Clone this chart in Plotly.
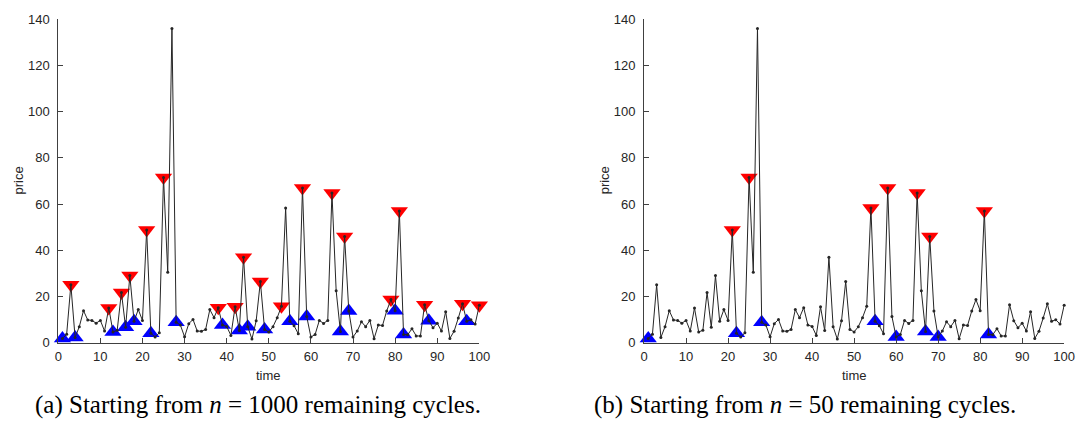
import plotly.graph_objects as go

time = list(range(1, 101))
price = [1.8, 3.6, 25.0, 2.2, 6.9, 13.8, 9.8, 9.6, 8.4, 9.6,
         5.0, 15.0, 4.6, 5.3, 21.7, 6.6, 29.0, 9.2, 14.3, 9.6,
         48.8, 4.0, 2.4, 4.2, 71.5, 30.5, 136.0, 8.8, 7.6, 2.5,
         8.2, 10.0, 5.0, 4.9, 5.7, 14.3, 10.8, 15.1, 7.6, 7.0,
         3.1, 15.5, 5.2, 37.0, 6.9, 1.5, 9.4, 26.4, 5.7, 4.6,
         6.9, 10.8, 15.7, 58.3, 9.2, 7.3, 3.8, 66.9, 11.3, 2.4,
         3.5, 9.6, 8.3, 9.6, 64.8, 22.4, 4.8, 45.9, 13.7, 2.4,
         5.0, 9.0, 6.9, 9.6, 1.7, 7.6, 7.4, 13.7, 18.6, 13.8,
         57.0, 3.5, 3.4, 6.0, 2.9, 2.8, 16.4, 9.5, 6.4, 8.4,
         5.0, 13.4, 1.8, 4.9, 10.6, 16.8, 9.2, 9.9, 8.0, 16.2]

# panel (a): n = 1000
sell_a = [3, 12, 15, 17, 21, 25, 38, 42, 44, 48, 53, 58, 65, 68, 79, 81, 87, 96, 100]
buy_a = [1, 4, 13, 16, 18, 22, 28, 39, 43, 45, 49, 55, 59, 67, 69, 80, 82, 88, 97]
# panel (b): n = 50
sell_b = [21, 25, 54, 58, 65, 68, 81]
buy_b = [1, 22, 28, 55, 60, 67, 70, 82]

captions = ["(a) Starting from <i>n</i> = 1000 remaining cycles.",
            "(b) Starting from <i>n</i> = 50 remaining cycles."]

RED = "#ff0000"
BLUE = "#0000ff"
LINE = "#262626"

fig = go.Figure()

def add_panel(sells, buys, xa, ya):
    fig.add_trace(go.Scatter(
        x=sells, y=[price[t - 1] for t in sells], mode="markers",
        marker=dict(symbol="triangle-down", size=15, color=RED, line=dict(width=0)),
        xaxis=xa, yaxis=ya, cliponaxis=False, showlegend=False, hoverinfo="skip"))
    fig.add_trace(go.Scatter(
        x=buys, y=[price[t - 1] for t in buys], mode="markers",
        marker=dict(symbol="triangle-up", size=15, color=BLUE, line=dict(width=0)),
        xaxis=xa, yaxis=ya, cliponaxis=False, showlegend=False, hoverinfo="skip"))
    fig.add_trace(go.Scatter(
        x=time, y=price, mode="lines+markers",
        line=dict(color=LINE, width=1),
        marker=dict(size=3, color=LINE),
        xaxis=xa, yaxis=ya, cliponaxis=False, showlegend=False))

add_panel(sell_a, buy_a, "x", "y")
add_panel(sell_b, buy_b, "x2", "y2")

W, H = 1088, 430
ydom = [1 - 347.7 / H, 1 - 12.7 / H]
axis_font = dict(family="Liberation Sans, Arial, sans-serif", size=13, color="#262626")

common_x = dict(range=[0, 100], tickvals=list(range(0, 101, 10)), ticks="inside",
                ticklen=5, tickcolor="#404040", showline=True, linecolor="#404040",
                linewidth=1, showgrid=False, zeroline=False, tickfont=axis_font,
                fixedrange=True, ticklabelstandoff=2)
common_y = dict(range=[0, 140], tickvals=list(range(0, 141, 20)), ticks="inside",
                ticklen=5, tickcolor="#404040", showline=True, linecolor="#404040",
                linewidth=1, showgrid=False, zeroline=False, tickfont=axis_font,
                fixedrange=True, domain=ydom, ticklabelstandoff=5)

fig.update_layout(
    width=W, height=H,
    margin=dict(l=0, r=0, t=0, b=0),
    paper_bgcolor="white", plot_bgcolor="white",
    xaxis=dict(domain=[55 / W, 482 / W], anchor="y", **common_x),
    yaxis=dict(anchor="x", **common_y),
    xaxis2=dict(domain=[649 / W, 1075 / W], anchor="y2", **common_x),
    yaxis2=dict(anchor="x2", **common_y),
)

ann = []
for cx, cy in [((55 + 482) / 2, 382), ((649 + 1075) / 2, 382)]:
    ann.append(dict(text="time", x=cx / W, y=1 - cy / H, xref="paper", yref="paper",
                    showarrow=False, font=axis_font, xanchor="center", yanchor="middle"))
for px in [15, 609]:
    ann.append(dict(text="price", x=px / W, y=1 - 180 / H, xref="paper", yref="paper",
                    showarrow=False, font=axis_font, textangle=-90,
                    xanchor="center", yanchor="middle"))
for cx, txt in zip([257.5, 812], captions):
    ann.append(dict(text=txt, x=cx / W, y=1 - 412 / H, xref="paper", yref="paper",
                    showarrow=False, xanchor="center", yanchor="middle",
                    font=dict(family="Liberation Serif, Times New Roman, serif", size=25,
                              color="#000000")))
fig.update_layout(annotations=ann)

fig.write_html("out.html")
